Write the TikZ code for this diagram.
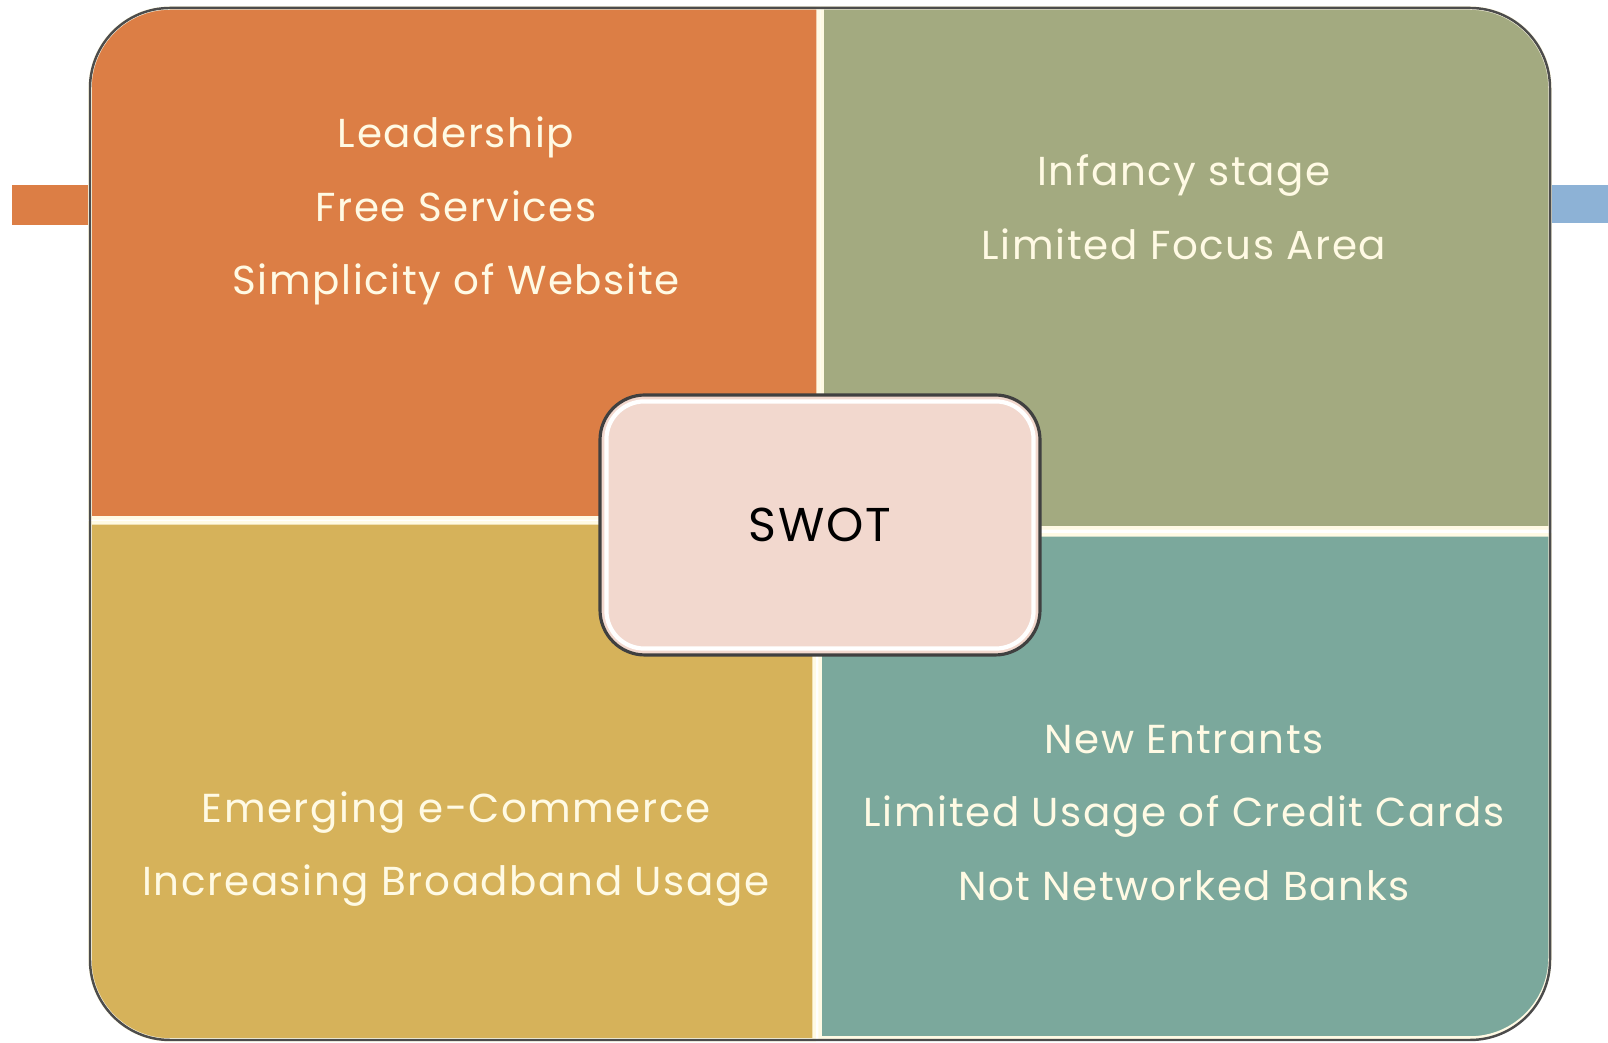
\documentclass[tikz,border=0pt]{standalone}
\usepackage{fontspec}
\setmainfont{Poppins}
\newfontfamily\swotfont[LetterSpace=4]{Poppins}
\usepackage{xcolor}
\usepackage{tikz}
\usetikzlibrary{positioning}
\usetikzlibrary{calc}

\definecolor{swotorange}{RGB}{220,126,69}
\definecolor{swotgreen}{RGB}{163,170,128}
\definecolor{swotgold}{RGB}{214,178,90}
\definecolor{swotteal}{RGB}{123,168,156}
\definecolor{swotpink}{RGB}{242,216,206}
\definecolor{swotcream}{RGB}{255,250,228}
\definecolor{swotblue}{RGB}{141,178,214}

\begin{document}
\begin{tikzpicture}[scale=1.,
  quad/.style={draw=swotcream, line width=1pt},
  quadtext/.style={text=swotcream, align=center, font=\swotfont\fontsize{11.5}{21}\selectfont},
  rim/.style={draw=black!70, line width=0.7pt}]
 \useasboundingbox (0,0) rectangle (16.08,10.43);

 % side tabs
 \fill[swotorange] (0.12,8.18) rectangle (0.9,8.58);
 \fill[swotblue] (15.5,8.20) rectangle (16.08,8.58);

 % the four quadrants
 \draw[quad, fill=swotorange] (0.9,5.25) -- (0.9,9.55) arc[start angle=180, end angle=90, radius=0.8] -- (8.18,10.35) -- (8.18,5.25) -- cycle;
 \draw[quad, fill=swotgreen] (8.22,5.15) -- (8.22,10.35) -- (14.7,10.35) arc[start angle=90, end angle=0, radius=0.8] -- (15.5,5.15) -- cycle;
 \draw[quad, fill=swotgold] (0.9,5.2) -- (0.9,0.83) arc[start angle=180, end angle=270, radius=0.8] -- (8.14,0.03) -- (8.14,5.2) -- cycle;
 \draw[quad, fill=swotteal] (8.2,5.08) -- (8.2,0.05) -- (14.7,0.05) arc[start angle=270, end angle=360, radius=0.8] -- (15.5,5.08) -- cycle;
 \draw[rim, rounded corners=0.8cm] (0.9,0.03) rectangle (15.5,10.35);

 \node[quadtext] (strengths) at (4.56,8.32) {Leadership\\Free Services\\Simplicity of Website};
 \node[quadtext] (weaknesses) at (11.84,8.36) {Infancy stage\\Limited Focus Area};
 \node[quadtext] (opportunities) at (4.56,1.94) {Emerging e-Commerce\\Increasing Broadband Usage};
 \node[quadtext] (threats) at (11.84,2.30) {New Entrants\\Limited Usage of Credit Cards\\Not Networked Banks};

 % centre box
 \node[draw=black!75, line width=0.9pt, fill=swotpink, rounded corners=0.45cm,
       minimum width=4.4cm, minimum height=2.6cm, font=\swotfont\fontsize{13.5}{15}\selectfont] (swot) at (8.2,5.18) {SWOT};
 \draw[white, line width=1.2pt, rounded corners=0.38cm] ($(swot.south west)+(0.08,0.08)$) rectangle ($(swot.north east)-(0.08,0.08)$);

\end{tikzpicture}
\end{document}
